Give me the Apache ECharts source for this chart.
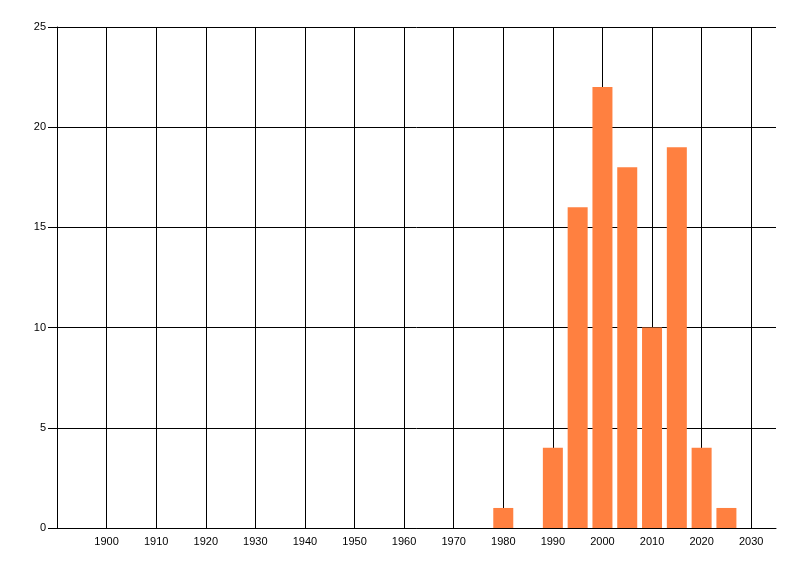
<!DOCTYPE html>
<html><head><meta charset="utf-8">
<script src="https://cdn.jsdelivr.net/npm/echarts@6/dist/echarts.min.js"></script>
<style>html,body{margin:0;padding:0;background:#fff}#c{width:800px;height:576px}</style>
</head><body><div id="c"></div>
<script>
const years = [1980, 1985, 1990, 1995, 2000, 2005, 2010, 2015, 2020, 2025];
const counts = [1, 0, 4, 16, 22, 18, 10, 19, 4, 1];
const chart = echarts.init(document.getElementById('c'));
chart.setOption({
  animation: false,
  grid: {left: 57, right: 24, top: 27, bottom: 48},
  xAxis: {
    type: 'value', min: 1890, max: 2035, interval: 10,
    axisLine: {show: true, onZero: false, lineStyle: {color: '#000', width: 1}},
    axisTick: {show: false},
    axisLabel: {color: '#000', fontFamily: 'Liberation Sans', fontSize: 11, margin: 8,
      showMinLabel: false, showMaxLabel: false,
      formatter: v => (v % 10 === 0 && v > 1890 && v <= 2030) ? String(v) : ''},
    splitLine: {show: true, showMinLine: false, showMaxLine: false, lineStyle: {color: '#000', width: 1}}
  },
  yAxis: {
    type: 'value', min: 0, max: 25, interval: 5,
    axisLine: {show: true, lineStyle: {color: '#000', width: 1}},
    axisTick: {show: true, length: 9, lineStyle: {color: '#000'}},
    axisLabel: {color: '#000', fontFamily: 'Liberation Sans', fontSize: 11, margin: 11},
    splitLine: {show: true, lineStyle: {color: '#000', width: 1}}
  },
  series: [{
    type: 'bar', barWidth: 20,
    itemStyle: {color: '#ff8040'},
    data: years.map((y, i) => [y, counts[i]])
  }]
});
</script></body></html>
